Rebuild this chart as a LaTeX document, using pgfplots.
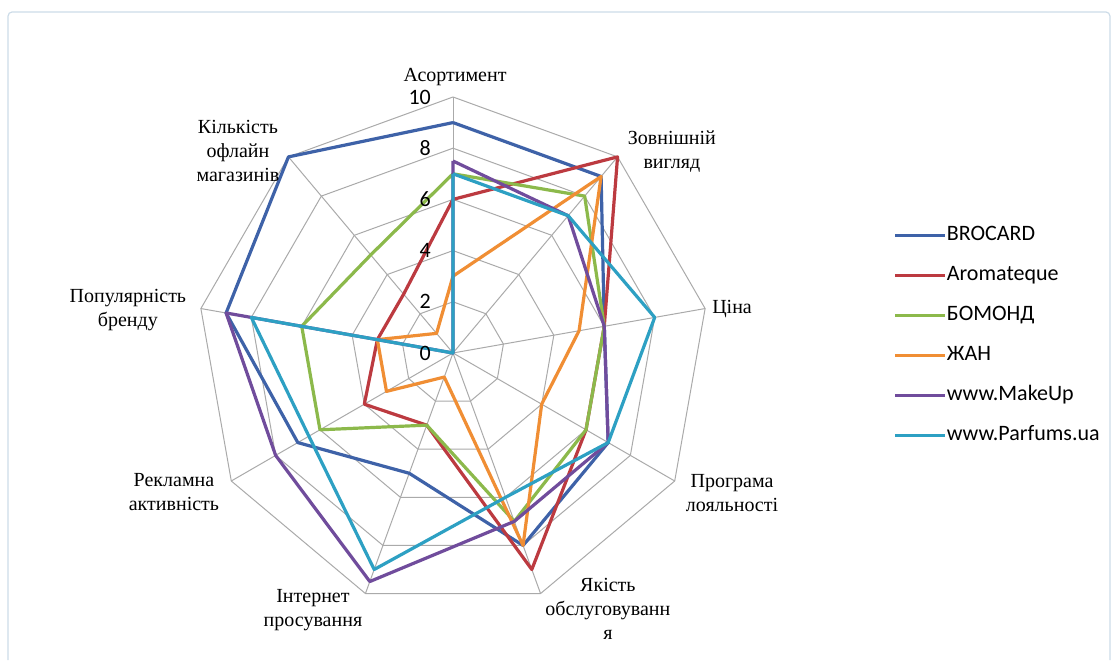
\documentclass[border=0pt]{standalone}
\usepackage{fontspec}
\setmainfont{Liberation Serif}
\newfontfamily\legfont{Carlito}
\usepackage{pgfplots}
\pgfplotsset{compat=1.18}
\usepgfplotslibrary{polar}
\definecolor{cBro}{RGB}{62,98,168}
\definecolor{cAro}{RGB}{188,58,64}
\definecolor{cBom}{RGB}{140,185,75}
\definecolor{cZhan}{RGB}{240,142,52}
\definecolor{cMak}{RGB}{112,76,156}
\definecolor{cPar}{RGB}{45,160,195}
\definecolor{gridc}{RGB}{170,170,170}
\definecolor{framec}{RGB}{205,220,232}
\begin{document}
\begin{tikzpicture}
\begin{axis}[
  x=12.8pt, y=12.8pt, scale only axis, hide axis, clip=false,
  xmin=-17.695, xmax=25.859, ymin=-11.641, ymax=13.789,
  legend image code/.code={\draw[#1] (0pt,0pt) -- (25pt,0pt);},
  legend cell align=left,
  legend style={at={(axis cs:17.2,5.02)}, anchor=north west, draw=none, fill=none,
    inner sep=0pt, row sep=9.5pt, column sep=0pt,
    font=\legfont\fontsize{11}{13}\selectfont,
    nodes={inner sep=0pt, text height=8pt, text depth=2.5pt}},
  every axis plot/.append style={line join=round},
]
\path[fill=white] (rel axis cs:0,0) rectangle (rel axis cs:1,1);
\draw[framec, line width=0.6pt, rounded corners=2pt] (axis cs:-17.38,-12) -- (axis cs:-17.38,13.32) -- (axis cs:25.66,13.32) -- (axis cs:25.66,-12);
% grid nonagons
\addplot[gridc, line width=0.5pt, forget plot, data cs=polar] coordinates {(90,2)(50,2)(10,2)(-30,2)(-70,2)(-110,2)(-150,2)(170,2)(130,2)(90,2)};
\addplot[gridc, line width=0.5pt, forget plot, data cs=polar] coordinates {(90,4)(50,4)(10,4)(-30,4)(-70,4)(-110,4)(-150,4)(170,4)(130,4)(90,4)};
\addplot[gridc, line width=0.5pt, forget plot, data cs=polar] coordinates {(90,6)(50,6)(10,6)(-30,6)(-70,6)(-110,6)(-150,6)(170,6)(130,6)(90,6)};
\addplot[gridc, line width=0.5pt, forget plot, data cs=polar] coordinates {(90,8)(50,8)(10,8)(-30,8)(-70,8)(-110,8)(-150,8)(170,8)(130,8)(90,8)};
\addplot[gridc, line width=0.5pt, forget plot, data cs=polar] coordinates {(90,10)(50,10)(10,10)(-30,10)(-70,10)(-110,10)(-150,10)(170,10)(130,10)(90,10)};
% spokes
\addplot[gridc, line width=0.5pt, forget plot, data cs=polar] coordinates {(90,0)(90,10)};
\addplot[gridc, line width=0.5pt, forget plot, data cs=polar] coordinates {(50,0)(50,10)};
\addplot[gridc, line width=0.5pt, forget plot, data cs=polar] coordinates {(10,0)(10,10)};
\addplot[gridc, line width=0.5pt, forget plot, data cs=polar] coordinates {(-30,0)(-30,10)};
\addplot[gridc, line width=0.5pt, forget plot, data cs=polar] coordinates {(-70,0)(-70,10)};
\addplot[gridc, line width=0.5pt, forget plot, data cs=polar] coordinates {(-110,0)(-110,10)};
\addplot[gridc, line width=0.5pt, forget plot, data cs=polar] coordinates {(-150,0)(-150,10)};
\addplot[gridc, line width=0.5pt, forget plot, data cs=polar] coordinates {(170,0)(170,10)};
\addplot[gridc, line width=0.5pt, forget plot, data cs=polar] coordinates {(130,0)(130,10)};
% series
\addplot[cBro, line width=1.6pt, data cs=polar] coordinates {(90,9)(50,9)(10,6)(-30,7)(-70,8)(-110,5)(-150,7)(170,9)(130,10)(90,9)};
\addlegendentry{BROCARD}
\addplot[cAro, line width=1.6pt, data cs=polar] coordinates {(90,6)(50,10)(10,6)(-30,6)(-70,9)(-110,3)(-150,4)(170,3)(130,3)(90,6)};
\addlegendentry{Aromateque}
\addplot[cBom, line width=1.6pt, data cs=polar] coordinates {(90,7)(50,8)(10,6)(-30,6)(-70,7)(-110,3)(-150,6)(170,6)(130,5)(90,7)};
\addlegendentry{БОМОНД}
\addplot[cZhan, line width=1.6pt, data cs=polar] coordinates {(90,3)(50,9)(10,5)(-30,4)(-70,8)(-110,1)(-150,3)(170,3)(130,1)(90,3)};
\addlegendentry{ЖАН}
\addplot[cMak, line width=1.6pt, data cs=polar] coordinates {(90,7.5)(50,7)(10,6)(-30,7)(-70,7)(-110,9.5)(-150,8)(170,9)(130,0)(90,7.5)};
\addlegendentry{www.MakeUp}
\addplot[cPar, line width=1.6pt, data cs=polar] coordinates {(90,7)(50,7)(10,8)(-30,7)(-70,6)(-110,9)(-150,6.5)(170,8)(130,0)(90,7)};
\addlegendentry{www.Parfums.ua}
% radial tick labels
\node[anchor=east, inner sep=0pt, font=\legfont\fontsize{11}{13}\selectfont] at (axis cs:-0.85,0) {0};
\node[anchor=east, inner sep=0pt, font=\legfont\fontsize{11}{13}\selectfont] at (axis cs:-0.85,2) {2};
\node[anchor=east, inner sep=0pt, font=\legfont\fontsize{11}{13}\selectfont] at (axis cs:-0.85,4) {4};
\node[anchor=east, inner sep=0pt, font=\legfont\fontsize{11}{13}\selectfont] at (axis cs:-0.85,6) {6};
\node[anchor=east, inner sep=0pt, font=\legfont\fontsize{11}{13}\selectfont] at (axis cs:-0.85,8) {8};
\node[anchor=east, inner sep=0pt, font=\legfont\fontsize{11}{13}\selectfont] at (axis cs:-0.85,10) {10};
% category labels
\node[align=center, inner sep=0pt, font=\fontsize{10}{12}\selectfont] at (axis cs:0.08,10.78) {Асортимент};
\node[align=center, inner sep=0pt, font=\fontsize{10}{12}\selectfont] at (axis cs:8.55,7.87) {Зовнішній\\вигляд};
\node[align=center, inner sep=0pt, font=\fontsize{10}{12}\selectfont] at (axis cs:10.9,1.72) {Ціна};
\node[align=center, inner sep=0pt, font=\fontsize{10}{12}\selectfont] at (axis cs:10.9,-5.47) {Програма\\лояльності};
\node[align=center, inner sep=0pt, font=\fontsize{10}{12}\selectfont] at (axis cs:6.05,-10.0) {Якість\\обслуговуванн\\я};
\node[align=center, inner sep=0pt, font=\fontsize{10}{12}\selectfont] at (axis cs:-5.47,-10.06) {Інтернет\\просування};
\node[align=center, inner sep=0pt, font=\fontsize{10}{12}\selectfont] at (axis cs:-10.9,-5.43) {Рекламна\\активність};
\node[align=center, inner sep=0pt, font=\fontsize{10}{12}\selectfont] at (axis cs:-12.7,1.66) {Популярність\\бренду};
\node[align=center, inner sep=0pt, font=\fontsize{10}{12}\selectfont] at (axis cs:-8.4,7.89) {Кількість\\офлайн\\магазинів};
\end{axis}
\end{tikzpicture}
\end{document}
